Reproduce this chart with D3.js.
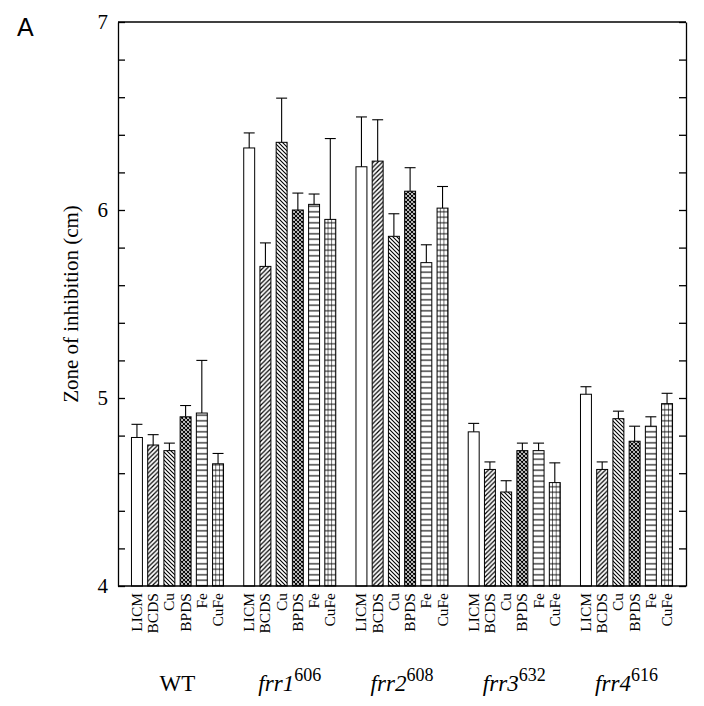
<!DOCTYPE html>
<html><head><meta charset="utf-8">
<script src="https://cdn.jsdelivr.net/npm/d3@7"></script>
<style>
html,body{margin:0;padding:0;background:#fff;}
svg{display:block;}
text{font-family:"Liberation Serif","Times New Roman",serif;fill:#000;}
</style></head>
<body>
<script>
const groups = ["WT", "frr1", "frr2", "frr3", "frr4"];
const groupSup = ["", "606", "608", "632", "616"];
const media = ["LICM", "BCDS", "Cu", "BPDS", "Fe", "CuFe"];

const valWT   = [4.79, 4.75, 4.72, 4.90, 4.92, 4.65];
const errWT   = [0.07, 0.055, 0.04, 0.06, 0.28, 0.055];
const valFrr1 = [6.33, 5.70, 6.36, 6.00, 6.03, 5.95];
const errFrr1 = [0.08, 0.125, 0.235, 0.09, 0.055, 0.43];
const valFrr2 = [6.23, 6.26, 5.86, 6.10, 5.72, 6.01];
const errFrr2 = [0.265, 0.22, 0.12, 0.125, 0.095, 0.115];
const valFrr3 = [4.82, 4.62, 4.50, 4.72, 4.72, 4.55];
const errFrr3 = [0.045, 0.04, 0.06, 0.04, 0.04, 0.105];
const valFrr4 = [5.02, 4.62, 4.89, 4.77, 4.85, 4.97];
const errFrr4 = [0.04, 0.04, 0.04, 0.08, 0.05, 0.055];

const yTickValues = [4, 5, 6, 7];
const yLabel = "Zone of inhibition (cm)";
const panelLabel = "A";

const allVals = [valWT, valFrr1, valFrr2, valFrr3, valFrr4];
const allErrs = [errWT, errFrr1, errFrr2, errFrr3, errFrr4];
const data = [];
groups.forEach((g, gi) => media.forEach((m, mi) => {
  data.push({group: g, gi, medium: m, mi, value: allVals[gi][mi], err: allErrs[gi][mi]});
}));

const W = 704, H = 706;
const L = 118, R = 686, T = 22, B = 586;

const svg = d3.select("body").append("svg").attr("width", W).attr("height", H);
const defs = svg.append("defs");

const x0 = d3.scaleBand().domain(groups).range([L, R]).paddingInner(0.18).paddingOuter(0.12);
const x1 = d3.scaleBand().domain(media).range([0, x0.bandwidth()]).paddingInner(0.325).paddingOuter(0);
const y = d3.scaleLinear().domain([4, 7]).range([B, T]);

// patterns
function pat(id, w, h, draw, xoff) {
  const p = defs.append("pattern").attr("id", id).attr("patternUnits", "userSpaceOnUse")
    .attr("width", w).attr("height", h).attr("x", xoff || 0).attr("y", 0);
  p.append("rect").attr("width", w).attr("height", h).attr("fill", "#fff");
  draw(p);
}
pat("p-BCDS", 4.5, 4.5, p => p.append("path").attr("d", "M-1,1 L1,-1 M0,4.5 L4.5,0 M3.5,5.5 L5.5,3.5").attr("stroke", "#000").attr("stroke-width", 1.2));
pat("p-Cu", 4, 4, p => p.append("path").attr("d", "M-1,3 L1,5 M0,0 L4,4 M3,-1 L5,1").attr("stroke", "#000").attr("stroke-width", 1.1));
pat("p-BPDS", 4, 4, p => p.append("path").attr("d", "M-1,1 L1,-1 M0,4 L4,0 M3,5 L5,3 M-1,3 L1,5 M0,0 L4,4 M3,-1 L5,1").attr("stroke", "#000").attr("stroke-width", 1.1));
pat("p-Fe", 6, 5.5, p => p.append("path").attr("d", "M0,2.75 L6,2.75").attr("stroke", "#000").attr("stroke-width", 1.1));
groups.forEach((g, gi) => {
  const bx = x0(g) + x1("CuFe");
  const cw = x1.bandwidth() / 3;
  pat("p-CuFe-" + gi, cw, 5.5, p => p.append("path").attr("d", `M0,2.75 L${cw},2.75 M${cw},0 L${cw},5.5`).attr("stroke", "#000").attr("stroke-width", 1.1), bx);
});
function fillFor(d) {
  if (d.medium === "LICM") return "#fff";
  if (d.medium === "CuFe") return `url(#p-CuFe-${d.gi})`;
  return `url(#p-${d.medium})`;
}

// bars
const bars = svg.append("g");
bars.selectAll("rect").data(data).join("rect")
  .attr("x", d => x0(d.group) + x1(d.medium))
  .attr("y", d => y(d.value))
  .attr("width", x1.bandwidth())
  .attr("height", d => y(4) - y(d.value))
  .attr("fill", fillFor)
  .attr("stroke", "#000").attr("stroke-width", 1);

// error bars (upper only)
const eb = svg.append("g").attr("stroke", "#000").attr("stroke-width", 1.1);
data.forEach(d => {
  const cx = x0(d.group) + x1(d.medium) + x1.bandwidth() / 2;
  const hw = x1.bandwidth() / 2;
  eb.append("line").attr("x1", cx).attr("x2", cx).attr("y1", y(d.value)).attr("y2", y(d.value + d.err));
  eb.append("line").attr("x1", cx - hw).attr("x2", cx + hw).attr("y1", y(d.value + d.err)).attr("y2", y(d.value + d.err));
});

// axes
const minorTicks = d3.range(0, 16).map(i => 4 + i * 0.2);
const yAxisL = d3.axisLeft(y).tickValues(minorTicks).tickSizeInner(-7).tickSizeOuter(0).tickPadding(10)
  .tickFormat(v => yTickValues.some(t => Math.abs(t - v) < 1e-6) ? d3.format("d")(Math.round(v)) : "");
const gL = svg.append("g").attr("transform", `translate(${L},0)`).call(yAxisL);
gL.selectAll("path,line").attr("stroke", "#000").attr("stroke-width", 1.3);
gL.selectAll("text").style("font-size", "21px").style("font-family", '"Liberation Serif",serif');

const yAxisR = d3.axisRight(y).tickValues(minorTicks).tickSizeInner(-7).tickSizeOuter(0).tickFormat("");
const gR = svg.append("g").attr("transform", `translate(${R},0)`).call(yAxisR);
gR.selectAll("path,line").attr("stroke", "#000").attr("stroke-width", 1.3);

svg.append("line").attr("x1", L).attr("x2", R).attr("y1", y(7)).attr("y2", y(7)).attr("stroke", "#000").attr("stroke-width", 1.3);
svg.append("line").attr("x1", L).attr("x2", R).attr("y1", y(4)).attr("y2", y(4)).attr("stroke", "#000").attr("stroke-width", 1.3);

// medium labels
const ml = svg.append("g");
data.forEach(d => {
  const cx = x0(d.group) + x1(d.medium) + x1.bandwidth() / 2;
  ml.append("text").attr("transform", `translate(${cx + 5},${B + 7}) rotate(-90)`)
    .attr("text-anchor", "end").style("font-size", "15.5px").text(d.medium);
});

// group labels
groups.forEach((g, gi) => {
  const cx = x0(g) + x0.bandwidth() / 2;
  const t = svg.append("text").attr("x", cx).attr("y", 691).attr("text-anchor", "middle").style("font-size", "23px");
  if (gi === 0) {
    t.text(g);
  } else {
    t.append("tspan").style("font-style", "italic").text(g);
    t.append("tspan").attr("dy", -10).style("font-size", "18px").text(groupSup[gi]);
  }
});

// y label
svg.append("text").attr("transform", `translate(78,${(T + B) / 2}) rotate(-90)`)
  .attr("text-anchor", "middle").style("font-size", "21px").text(yLabel);

// panel label
svg.append("text").attr("x", 17).attr("y", 36).style("font-family", '"Liberation Sans",Arial,sans-serif')
  .style("font-size", "25px").text(panelLabel);
</script>
</body></html>
